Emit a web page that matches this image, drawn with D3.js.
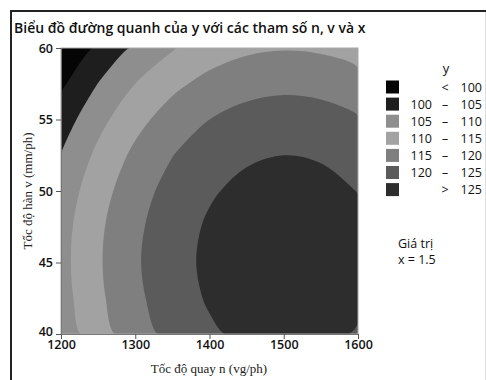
<!DOCTYPE html>
<html><head><meta charset="utf-8">
<script src="https://cdn.jsdelivr.net/npm/d3@7"></script>
<style>body{margin:0;background:#fff;} svg{display:block}</style>
</head><body><svg id="c" width="486" height="380"></svg>
<script>
// ---- data ----
const nValues = [1200, 1250, 1300, 1350, 1400, 1450, 1500, 1550, 1600];
const vValues = [40, 42.5, 45, 47.5, 50, 52.5, 55, 57.5, 60];
// y estimated at each (v row, n column)
const yRow40   = [106.8, 112.8, 117.7, 121.5, 124.3, 126.0, 126.6, 126.2, 124.6];
const yRow42_5 = [108.0, 114.0, 118.9, 122.8, 125.5, 127.2, 127.9, 127.4, 125.9];
const yRow45   = [108.4, 114.4, 119.4, 123.2, 126.0, 127.7, 128.3, 127.9, 126.3];
const yRow47_5 = [108.1, 114.1, 119.0, 122.9, 125.6, 127.3, 128.0, 127.5, 126.0];
const yRow50   = [107.0, 113.0, 117.9, 121.8, 124.5, 126.2, 126.9, 126.4, 124.9];
const yRow52_5 = [105.1, 111.1, 116.1, 119.9, 122.7, 124.4, 125.0, 124.6, 123.0];
const yRow55   = [102.5, 108.5, 113.4, 117.3, 120.0, 121.7, 122.4, 121.9, 120.4];
const yRow57_5 = [99.1, 105.1, 110.0, 113.8, 116.6, 118.3, 118.9, 118.5, 116.9];
const yRow60   = [94.9, 100.9, 105.8, 109.6, 112.4, 114.1, 114.7, 114.3, 112.7];
const yGrid = [yRow40, yRow42_5, yRow45, yRow47_5, yRow50, yRow52_5, yRow55, yRow57_5, yRow60];
const thresholds = [100, 105, 110, 115, 120, 125];
const bandLow  = ["", "100", "105", "110", "115", "120", ""];
const bandMid  = ["<", "–", "–", "–", "–", "–", ">"];
const bandHigh = ["100", "105", "110", "115", "120", "125", "125"];
const bandColors = ["#050505", "#1e1e1e", "#8e8e8e", "#a2a2a2", "#7f7f7f", "#5b5b5b", "#2d2d2d"];
const xTicks = [1200, 1300, 1400, 1500, 1600];
const yTicks = [40, 45, 50, 55, 60];
const titleText = "Biểu đồ đường quanh của y với các tham số n, v và x";
const xLabel = "Tốc độ quay n (vg/ph)";
const yLabel = "Tốc độ hàn v (mm/ph)";
const noteLines = ["Giá trị", "x = 1.5"];

// ---- layout ----
const svg = d3.select("#c");
const L = 61, R = 358, T = 48, B = 334;
const x = d3.scaleLinear().domain([1200, 1600]).range([L, R]);
const y = d3.scaleLinear().domain([40, 60]).range([B, T]);

// frame
svg.append("line").attr("x1", 11).attr("x2", 11).attr("y1", 10).attr("y2", 380).attr("stroke", "#222").attr("stroke-width", 2);
svg.append("line").attr("x1", 10).attr("x2", 486).attr("y1", 11).attr("y2", 11).attr("stroke", "#222").attr("stroke-width", 2);
svg.append("line").attr("x1", 485.5).attr("x2", 485.5).attr("y1", 12).attr("y2", 380).attr("stroke", "#ddd").attr("stroke-width", 1);

svg.append("text").attr("x", 14).attr("y", 33).text(titleText)
  .attr("font-family", "Open Sans").attr("font-size", 14).attr("font-weight", 600).attr("fill", "#111");

// ---- contours ----
const dx = nValues.length, dy = vValues.length;
const contours = d3.contours().size([dx, dy]).thresholds(thresholds)(yGrid.flat());
const gx = d3.scaleLinear().domain([0.5, dx - 0.5]).range([nValues[0], nValues[dx - 1]]);
const gy = d3.scaleLinear().domain([0.5, dy - 0.5]).range([vValues[0], vValues[dy - 1]]);

svg.append("clipPath").attr("id", "pc").append("rect").attr("x", L).attr("y", T).attr("width", R - L).attr("height", B - T);
const plot = svg.append("g").attr("clip-path", "url(#pc)");
plot.append("rect").attr("x", L).attr("y", T).attr("width", R - L).attr("height", B - T).attr("fill", bandColors[0]);

const lineGen = d3.line().curve(d3.curveCatmullRomClosed.alpha(0.5));
function ringPath(ring) {
  let pts = ring.map(([a, b]) => [Math.max(0.5, Math.min(dx - 0.5, a)), Math.max(0.5, Math.min(dy - 0.5, b))]);
  const out = [];
  pts.forEach(p => {
    const q = out[out.length - 1];
    if (!q || Math.abs(q[0] - p[0]) > 1e-6 || Math.abs(q[1] - p[1]) > 1e-6) out.push(p);
  });
  if (out.length > 1) {
    const f = out[0], l = out[out.length - 1];
    if (Math.abs(f[0] - l[0]) < 1e-6 && Math.abs(f[1] - l[1]) < 1e-6) out.pop();
  }
  if (out.length < 3) return "";
  return lineGen(out.map(([a, b]) => [x(gx(a)), y(gy(b))]));
}
contours.forEach((c, i) => {
  const d = c.coordinates.map(poly => poly.map(ringPath).join("")).join("");
  plot.append("path").attr("d", d).attr("fill", bandColors[i + 1]).attr("fill-rule", "evenodd");
});

// plot border
svg.append("rect").attr("x", L).attr("y", T).attr("width", R - L).attr("height", B - T)
  .attr("fill", "none").attr("stroke", "#a8a8a8").attr("stroke-width", 1);

// axes
const ax = svg.append("g").attr("transform", `translate(0,${B})`)
  .call(d3.axisBottom(x).tickValues(xTicks).tickSize(5).tickPadding(1).tickFormat(d3.format("d")));
const ay = svg.append("g").attr("transform", `translate(${L},0)`)
  .call(d3.axisLeft(y).tickValues(yTicks).tickSize(5).tickPadding(3).tickFormat(d3.format("d")));
[ax, ay].forEach(g => {
  g.selectAll("path.domain").attr("stroke", "#777");
  g.selectAll(".tick line").attr("stroke", "#555");
  g.selectAll(".tick text").attr("font-family", "Open Sans").attr("font-size", 12.5).attr("font-weight", 600).attr("fill", "#111");
});
ay.selectAll(".tick text").filter(d => d === 40).attr("dy", "0.1em");

svg.append("text").attr("x", 209).attr("y", 373).attr("text-anchor", "middle").text(xLabel)
  .attr("font-family", "Liberation Serif").attr("font-size", 13).attr("fill", "#222");
svg.append("text").attr("transform", "translate(32,191) rotate(-90)").attr("text-anchor", "middle").text(yLabel)
  .attr("font-family", "Liberation Serif").attr("font-size", 13).attr("fill", "#222");

// legend
const lg = svg.append("g").attr("font-family", "Open Sans").attr("font-size", 12.5).attr("fill", "#111");
lg.append("text").attr("x", 446).attr("y", 73).attr("text-anchor", "middle").text("y").attr("font-size", 13);
bandColors.forEach((col, i) => {
  const cy = 87 + i * 17.1;
  lg.append("rect").attr("x", 386).attr("y", cy - 6.5).attr("width", 13).attr("height", 13).attr("fill", col);
  lg.append("text").attr("x", 432).attr("y", cy + 4.5).attr("text-anchor", "end").text(bandLow[i]);
  lg.append("text").attr("x", 445).attr("y", cy + 4.5).attr("text-anchor", "middle").text(bandMid[i]);
  lg.append("text").attr("x", 482).attr("y", cy + 4.5).attr("text-anchor", "end").text(bandHigh[i]);
});
noteLines.forEach((t, i) => {
  lg.append("text").attr("x", 398).attr("y", 248 + i * 16).text(t);
});
</script></body></html>
